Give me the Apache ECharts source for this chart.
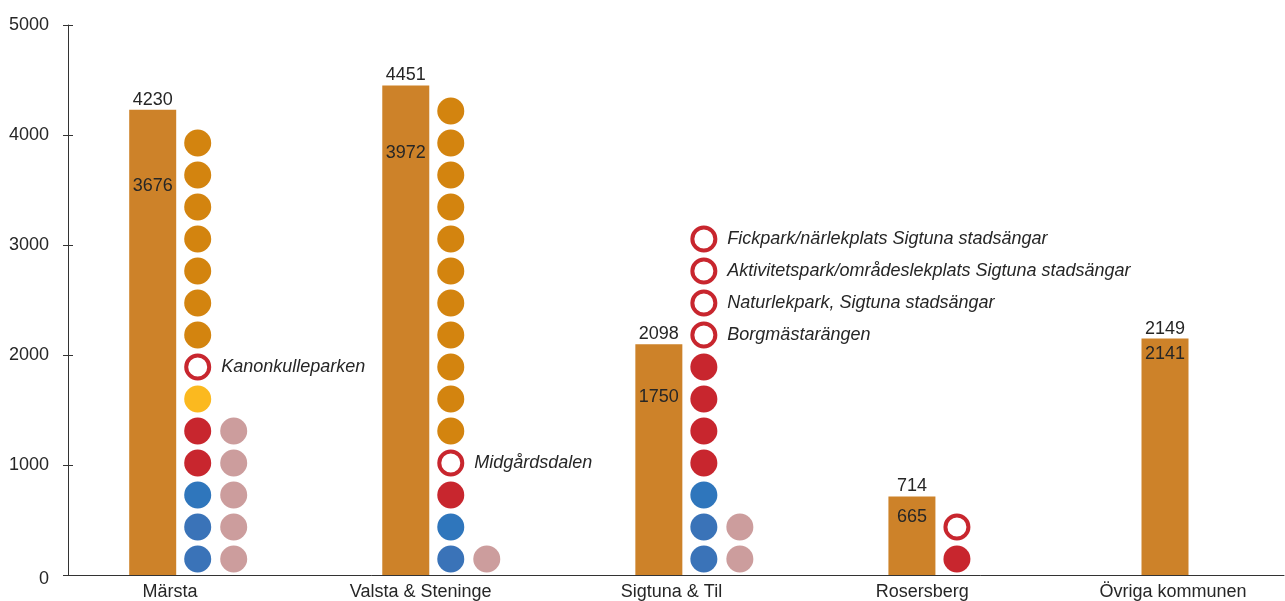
<!DOCTYPE html>
<html>
<head>
<meta charset="utf-8">
<title>Lekplatser och invånare per område</title>
<script src="https://cdn.jsdelivr.net/npm/echarts@6/dist/echarts.min.js"></script>
<style>
  html, body { margin: 0; padding: 0; background: #ffffff; }
  #chart { width: 1285px; height: 601px; }
</style>
</head>
<body>
<div id="chart"></div>
<script>
// Areas along the x axis
const categories = ['Märsta', 'Valsta & Steninge', 'Sigtuna & Til', 'Rosersberg', 'Övriga kommunen'];

// Bar height (label above the bar) and second figure (label inside the bar)
const totalCounts = [4230, 4451, 2098, 714, 2149];
const innerCounts = [3676, 3972, 1750, 665, 2141];

// Value axis ticks
const yTicks = [0, 1000, 2000, 3000, 4000, 5000];

// Playground dots, listed bottom-up for each area
const marstaDots      = ['blueLight', 'blueLight', 'blue', 'red', 'red', 'yellow', 'ring',
                         'orange', 'orange', 'orange', 'orange', 'orange', 'orange', 'orange'];
const valstaDots      = ['blueLight', 'blue', 'red', 'ring',
                         'orange', 'orange', 'orange', 'orange', 'orange', 'orange',
                         'orange', 'orange', 'orange', 'orange', 'orange'];
const sigtunaDots     = ['blueLight', 'blueLight', 'blue', 'red', 'red', 'red', 'red',
                         'ring', 'ring', 'ring', 'ring'];
const rosersbergDots  = ['red', 'ring'];

// Second column of dots
const marstaDots2     = ['rose', 'rose', 'rose', 'rose', 'rose'];
const valstaDots2     = ['rose'];
const sigtunaDots2    = ['rose', 'rose'];

// Names of the planned parks (open rings), bottom-up
const marstaPlanned     = ['Kanonkulleparken'];
const valstaPlanned     = ['Midgårdsdalen'];
const sigtunaPlanned    = ['Borgmästarängen',
                           'Naturlekpark, Sigtuna stadsängar',
                           'Aktivitetspark/områdeslekplats Sigtuna stadsängar',
                           'Fickpark/närlekplats Sigtuna stadsängar'];
const rosersbergPlanned = [''];

const column1 = [marstaDots, valstaDots, sigtunaDots, rosersbergDots, []];
const column2 = [marstaDots2, valstaDots2, sigtunaDots2, [], []];
const plannedNames = [marstaPlanned, valstaPlanned, sigtunaPlanned, rosersbergPlanned, []];

// ---- styling ----
const FONT = '"Liberation Sans", Arial, Helvetica, sans-serif';
const TEXT = '#262626';
const AXIS = '#333333';
const BAR_COLOR = '#CD8229';
const DOT_COLORS = {
  blue: '#2F76BC',
  blueLight: '#3A73B8',
  red: '#C8262E',
  yellow: '#FBB91F',
  orange: '#D3840F',
  rose: '#CC9D9D'
};
const DOT_SIZE = 27;
const RING_SIZE = 23;
const RING_WIDTH = 4;
const DOT_STEP = 32;           // px between stacked dots
const PLOT_TOP = 25, PLOT_BOTTOM = 26;
const PLOT_H = 601 - PLOT_TOP - PLOT_BOTTOM;

function dotItems(columns, names) {
  const items = [];
  columns.forEach((kinds, ci) => {
    let ringNo = 0;
    kinds.forEach((kind, level) => {
      const item = { value: [ci, level] };
      if (kind === 'ring') {
        const name = (names && names[ci] && names[ci][ringNo++]) || '';
        item.symbolSize = RING_SIZE;
        item.itemStyle = { color: '#ffffff', borderColor: DOT_COLORS.red, borderWidth: RING_WIDTH, opacity: 1 };
        if (name) item.label = { show: true, formatter: name };
      } else {
        item.itemStyle = { color: DOT_COLORS[kind], borderWidth: 0, opacity: 1 };
      }
      items.push(item);
    });
  });
  return items;
}

const yMin = yTicks[0], yMax = yTicks[yTicks.length - 1], yStep = yTicks[1] - yTicks[0];

const chart = echarts.init(document.getElementById('chart'), null, { renderer: 'canvas' });

const option = {
  animation: false,
  backgroundColor: '#ffffff',
  textStyle: { fontFamily: FONT },
  grid: [
    // frame with the visible axes
    { left: 68, right: 1, top: PLOT_TOP, bottom: PLOT_BOTTOM },
    // area names (first and last name on the grid edges)
    { left: 170, right: 112, top: PLOT_TOP, bottom: PLOT_BOTTOM },
    // bars and dots (first and last bar on the grid edges)
    { left: 152.7, right: 120, top: PLOT_TOP, bottom: PLOT_BOTTOM }
  ],
  xAxis: [
    {
      gridIndex: 0, type: 'category', data: categories,
      axisLine: { show: true, lineStyle: { color: AXIS, width: 1 } },
      axisTick: { show: false }, axisLabel: { show: false }, splitLine: { show: false }
    },
    {
      gridIndex: 1, type: 'category', data: categories, boundaryGap: false,
      axisLine: { show: false }, axisTick: { show: false }, splitLine: { show: false },
      axisLabel: { show: true, interval: 0, margin: 9, fontSize: 18, color: TEXT, fontFamily: FONT }
    },
    {
      gridIndex: 2, type: 'category', data: categories, boundaryGap: false, show: false
    }
  ],
  yAxis: [
    {
      gridIndex: 0, type: 'value', min: yMin, max: yMax, interval: yStep,
      axisLine: { show: true, lineStyle: { color: AXIS, width: 1 } },
      axisTick: { show: true, inside: false, length: 5, lineStyle: { color: AXIS, width: 1 } },
      splitLine: { show: false },
      axisLabel: {
        show: true, margin: 19, fontSize: 18, color: TEXT, fontFamily: FONT,
        formatter: v => (v === 0 ? '{z|0}' : String(v)),
        rich: { z: { fontSize: 18, color: TEXT, fontFamily: FONT, padding: [9, 0, 0, 0] } }
      }
    },
    {
      // inner half of the crossing tick marks
      gridIndex: 0, type: 'value', min: yMin, max: yMax, interval: yStep, position: 'left',
      axisLine: { show: false },
      axisTick: { show: true, inside: true, length: 5, lineStyle: { color: AXIS, width: 1 } },
      axisLabel: { show: false }, splitLine: { show: false }
    },
    { gridIndex: 1, type: 'value', min: yMin, max: yMax, show: false },
    { gridIndex: 2, type: 'value', min: yMin, max: yMax, show: false },
    {
      // stacking levels of the dots
      gridIndex: 2, type: 'value', min: -0.5, max: -0.5 + PLOT_H / DOT_STEP, show: false
    }
  ],
  series: [
    {
      name: 'Totalt', type: 'bar', xAxisIndex: 2, yAxisIndex: 3,
      data: totalCounts, barWidth: 47, barGap: '-100%',
      itemStyle: { color: BAR_COLOR },
      label: { show: true, position: 'top', distance: 1, fontSize: 18, color: TEXT, fontFamily: FONT },
      silent: true
    },
    {
      name: 'Andel', type: 'bar', xAxisIndex: 2, yAxisIndex: 3,
      data: innerCounts, barWidth: 47, barGap: '-100%',
      itemStyle: { color: 'rgba(0,0,0,0)' },
      label: { show: true, position: 'insideTop', distance: 6, fontSize: 18, color: TEXT, fontFamily: FONT },
      silent: true
    },
    {
      name: 'Lekplatser', type: 'scatter', xAxisIndex: 2, yAxisIndex: 4,
      symbol: 'circle', symbolSize: DOT_SIZE, symbolOffset: [45, 0],
      itemStyle: { opacity: 1 },
      data: dotItems(column1, plannedNames),
      label: {
        show: false, position: 'right', distance: 10, opacity: 1,
        fontSize: 18, fontStyle: 'italic', color: TEXT, fontFamily: FONT
      },
      silent: true, z: 3
    },
    {
      name: 'Lekplatser 2', type: 'scatter', xAxisIndex: 2, yAxisIndex: 4,
      symbol: 'circle', symbolSize: DOT_SIZE, symbolOffset: [81, 0],
      itemStyle: { opacity: 1 },
      data: dotItems(column2, null),
      silent: true, z: 3
    }
  ]
};

chart.setOption(option);
</script>
</body>
</html>
